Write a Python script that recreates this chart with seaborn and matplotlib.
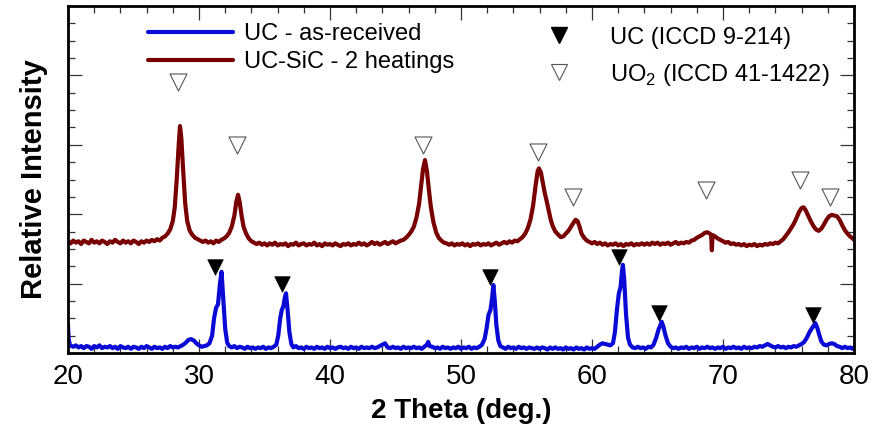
import matplotlib
matplotlib.use("Agg")
import matplotlib.pyplot as plt
from matplotlib.lines import Line2D
from matplotlib.ticker import MultipleLocator, NullFormatter
import seaborn as sns

# ---------------- data, (2theta, intensity) ----------------
red_points = [
    (20.0, 1.61), (20.2, 1.58), (20.4, 1.62), (20.6, 1.59), (20.8, 1.61), (21.0, 1.57),
    (21.2, 1.62), (21.4, 1.60), (21.6, 1.58), (21.8, 1.63), (22.0, 1.59), (22.2, 1.61),
    (22.4, 1.58), (22.6, 1.62), (22.8, 1.60), (23.0, 1.57), (23.2, 1.61), (23.4, 1.59),
    (23.6, 1.63), (23.8, 1.60), (24.0, 1.58), (24.2, 1.62), (24.4, 1.59), (24.6, 1.61),
    (24.8, 1.58), (25.0, 1.62), (25.2, 1.60), (25.4, 1.57), (25.6, 1.61), (25.8, 1.59),
    (26.0, 1.62), (26.2, 1.60), (26.4, 1.63), (26.6, 1.61), (26.8, 1.64), (27.0, 1.62),
    (27.2, 1.66), (27.4, 1.68), (27.6, 1.72), (27.8, 1.78), (28.0, 1.90), (28.15, 2.10),
    (28.3, 2.50), (28.45, 3.00), (28.55, 3.27), (28.65, 3.10), (28.8, 2.60), (28.95, 2.15),
    (29.1, 1.90), (29.3, 1.76), (29.5, 1.70), (29.7, 1.66), (29.9, 1.64), (30.1, 1.62),
    (30.3, 1.60), (30.5, 1.62), (30.7, 1.59), (30.9, 1.61), (31.1, 1.58), (31.3, 1.62),
    (31.5, 1.60), (31.7, 1.63), (31.9, 1.65), (32.1, 1.68), (32.3, 1.73), (32.5, 1.82),
    (32.7, 1.98), (32.85, 2.18), (32.98, 2.28), (33.1, 2.18), (33.25, 1.98), (33.4, 1.82),
    (33.6, 1.72), (33.8, 1.65), (34.0, 1.61), (34.2, 1.59), (34.4, 1.57), (34.6, 1.59),
    (34.8, 1.56), (35.0, 1.58), (35.2, 1.55), (35.4, 1.58), (35.6, 1.56), (35.8, 1.59),
    (36.0, 1.55), (36.2, 1.57), (36.4, 1.56), (36.6, 1.58), (36.8, 1.54), (37.0, 1.57),
    (37.2, 1.56), (37.4, 1.59), (37.6, 1.55), (37.8, 1.57), (38.0, 1.58), (38.2, 1.55),
    (38.4, 1.57), (38.6, 1.56), (38.8, 1.59), (39.0, 1.55), (39.2, 1.57), (39.4, 1.54),
    (39.6, 1.58), (39.8, 1.56), (40.0, 1.57), (40.2, 1.55), (40.4, 1.58), (40.6, 1.56),
    (40.8, 1.54), (41.0, 1.57), (41.2, 1.56), (41.4, 1.58), (41.6, 1.55), (41.8, 1.57),
    (42.0, 1.56), (42.2, 1.59), (42.4, 1.56), (42.6, 1.58), (42.8, 1.55), (43.0, 1.57),
    (43.2, 1.60), (43.4, 1.57), (43.6, 1.59), (43.8, 1.56), (44.0, 1.58), (44.2, 1.60),
    (44.4, 1.57), (44.6, 1.59), (44.8, 1.61), (45.0, 1.58), (45.2, 1.60), (45.4, 1.62),
    (45.6, 1.63), (45.8, 1.66), (46.0, 1.70), (46.2, 1.75), (46.4, 1.82), (46.6, 1.95),
    (46.8, 2.15), (46.95, 2.40), (47.1, 2.65), (47.25, 2.78), (47.4, 2.62), (47.55, 2.35),
    (47.7, 2.10), (47.9, 1.88), (48.1, 1.74), (48.3, 1.66), (48.5, 1.62), (48.7, 1.59),
    (48.9, 1.58), (49.1, 1.56), (49.3, 1.58), (49.5, 1.55), (49.7, 1.57), (49.9, 1.56),
    (50.1, 1.58), (50.3, 1.55), (50.5, 1.57), (50.7, 1.54), (50.9, 1.57), (51.1, 1.56),
    (51.3, 1.58), (51.5, 1.55), (51.7, 1.57), (51.9, 1.56), (52.1, 1.58), (52.3, 1.55),
    (52.5, 1.57), (52.7, 1.59), (52.9, 1.56), (53.1, 1.58), (53.3, 1.60), (53.5, 1.58),
    (53.7, 1.61), (53.9, 1.59), (54.1, 1.62), (54.3, 1.61), (54.5, 1.64), (54.7, 1.67),
    (54.9, 1.72), (55.1, 1.80), (55.3, 1.92), (55.5, 2.12), (55.7, 2.42), (55.85, 2.62),
    (55.95, 2.66), (56.1, 2.60), (56.25, 2.45), (56.4, 2.30), (56.55, 2.18), (56.7, 2.05),
    (56.85, 1.92), (57.0, 1.83), (57.2, 1.75), (57.4, 1.71), (57.6, 1.67), (57.8, 1.68),
    (58.0, 1.72), (58.2, 1.76), (58.4, 1.82), (58.6, 1.88), (58.75, 1.92), (58.9, 1.90),
    (59.05, 1.82), (59.2, 1.72), (59.4, 1.66), (59.6, 1.62), (59.8, 1.60), (60.0, 1.58),
    (60.2, 1.60), (60.4, 1.57), (60.6, 1.59), (60.8, 1.56), (61.0, 1.58), (61.2, 1.55),
    (61.4, 1.57), (61.6, 1.56), (61.8, 1.58), (62.0, 1.55), (62.2, 1.57), (62.4, 1.54),
    (62.6, 1.57), (62.8, 1.56), (63.0, 1.58), (63.2, 1.55), (63.4, 1.57), (63.6, 1.56),
    (63.8, 1.58), (64.0, 1.56), (64.2, 1.58), (64.4, 1.56), (64.6, 1.59), (64.8, 1.57),
    (65.0, 1.59), (65.2, 1.56), (65.4, 1.58), (65.6, 1.57), (65.8, 1.59), (66.0, 1.56),
    (66.2, 1.58), (66.4, 1.60), (66.6, 1.57), (66.8, 1.59), (67.0, 1.58), (67.2, 1.60),
    (67.4, 1.59), (67.6, 1.62), (67.8, 1.63), (68.0, 1.66), (68.2, 1.68), (68.4, 1.70),
    (68.6, 1.73), (68.8, 1.74), (69.0, 1.72), (69.1, 1.70), (69.15, 1.48), (69.2, 1.70),
    (69.4, 1.68), (69.6, 1.65), (69.8, 1.63), (70.0, 1.61), (70.2, 1.59), (70.4, 1.60),
    (70.6, 1.57), (70.8, 1.58), (71.0, 1.56), (71.2, 1.57), (71.4, 1.55), (71.6, 1.57),
    (71.8, 1.54), (72.0, 1.56), (72.2, 1.55), (72.4, 1.57), (72.6, 1.54), (72.8, 1.56),
    (73.0, 1.55), (73.2, 1.57), (73.4, 1.56), (73.6, 1.58), (73.8, 1.57), (74.0, 1.59),
    (74.2, 1.58), (74.4, 1.61), (74.6, 1.64), (74.8, 1.69), (75.0, 1.74), (75.2, 1.80),
    (75.4, 1.86), (75.6, 1.94), (75.8, 2.03), (76.0, 2.09), (76.15, 2.10), (76.3, 2.06),
    (76.5, 1.98), (76.7, 1.90), (76.9, 1.83), (77.1, 1.78), (77.3, 1.76), (77.5, 1.79),
    (77.7, 1.85), (77.9, 1.92), (78.1, 1.97), (78.3, 1.99), (78.5, 1.98), (78.7, 1.97),
    (78.9, 1.92), (79.1, 1.84), (79.3, 1.77), (79.5, 1.72), (79.7, 1.68), (79.9, 1.65),
    (80.0, 1.63),
]

blue_points = [
    (20.0, 0.40), (20.05, 0.20), (20.15, 0.11), (20.4, 0.09), (20.6, 0.11), (20.8, 0.08),
    (21.0, 0.10), (21.2, 0.07), (21.4, 0.10), (21.6, 0.09), (21.8, 0.06), (22.0, 0.10),
    (22.2, 0.08), (22.4, 0.11), (22.6, 0.07), (22.8, 0.09), (23.0, 0.08), (23.2, 0.10),
    (23.4, 0.07), (23.6, 0.09), (23.8, 0.06), (24.0, 0.10), (24.2, 0.08), (24.4, 0.07),
    (24.6, 0.09), (24.8, 0.06), (25.0, 0.09), (25.2, 0.08), (25.4, 0.06), (25.6, 0.09),
    (25.8, 0.07), (26.0, 0.10), (26.2, 0.08), (26.4, 0.06), (26.6, 0.09), (26.8, 0.07),
    (27.0, 0.08), (27.2, 0.06), (27.4, 0.09), (27.6, 0.07), (27.8, 0.10), (28.0, 0.08),
    (28.2, 0.09), (28.4, 0.08), (28.6, 0.10), (28.8, 0.12), (29.0, 0.15), (29.2, 0.19),
    (29.4, 0.20), (29.6, 0.18), (29.8, 0.14), (30.0, 0.11), (30.2, 0.09), (30.4, 0.10),
    (30.6, 0.11), (30.8, 0.14), (31.0, 0.25), (31.15, 0.50), (31.3, 0.65), (31.45, 0.70),
    (31.6, 1.00), (31.72, 1.17), (31.85, 0.80), (32.0, 0.35), (32.15, 0.15), (32.3, 0.10),
    (32.5, 0.08), (32.7, 0.10), (32.9, 0.07), (33.1, 0.09), (33.3, 0.08), (33.5, 0.06),
    (33.7, 0.09), (33.9, 0.07), (34.1, 0.08), (34.3, 0.06), (34.5, 0.08), (34.7, 0.07),
    (34.9, 0.09), (35.1, 0.06), (35.3, 0.08), (35.5, 0.07), (35.7, 0.09), (35.9, 0.12),
    (36.05, 0.25), (36.2, 0.50), (36.32, 0.62), (36.45, 0.68), (36.55, 0.80), (36.64, 0.86),
    (36.75, 0.65), (36.9, 0.30), (37.05, 0.13), (37.2, 0.08), (37.4, 0.10), (37.6, 0.07),
    (37.8, 0.08), (38.0, 0.06), (38.2, 0.09), (38.4, 0.07), (38.6, 0.08), (38.8, 0.06),
    (39.0, 0.09), (39.2, 0.07), (39.4, 0.08), (39.6, 0.06), (39.8, 0.09), (40.0, 0.07),
    (40.2, 0.08), (40.4, 0.06), (40.6, 0.08), (40.8, 0.09), (41.0, 0.07), (41.2, 0.08),
    (41.4, 0.06), (41.6, 0.09), (41.8, 0.07), (42.0, 0.08), (42.2, 0.06), (42.4, 0.09),
    (42.6, 0.07), (42.8, 0.08), (43.0, 0.07), (43.2, 0.09), (43.4, 0.07), (43.6, 0.08),
    (43.8, 0.10), (44.0, 0.12), (44.2, 0.14), (44.4, 0.08), (44.6, 0.07), (44.8, 0.09),
    (45.0, 0.07), (45.2, 0.08), (45.4, 0.06), (45.6, 0.09), (45.8, 0.07), (46.0, 0.08),
    (46.2, 0.07), (46.4, 0.09), (46.6, 0.07), (46.8, 0.08), (47.0, 0.06), (47.2, 0.09),
    (47.4, 0.12), (47.5, 0.16), (47.6, 0.10), (47.8, 0.09), (48.0, 0.07), (48.2, 0.08),
    (48.4, 0.06), (48.6, 0.09), (48.8, 0.07), (49.0, 0.08), (49.2, 0.06), (49.4, 0.08),
    (49.6, 0.07), (49.8, 0.09), (50.0, 0.06), (50.2, 0.08), (50.4, 0.07), (50.6, 0.09),
    (50.8, 0.06), (51.0, 0.08), (51.2, 0.07), (51.4, 0.09), (51.6, 0.12), (51.8, 0.20),
    (51.95, 0.35), (52.1, 0.55), (52.25, 0.62), (52.38, 0.80), (52.47, 0.98), (52.58, 0.75),
    (52.7, 0.40), (52.85, 0.18), (53.0, 0.10), (53.2, 0.08), (53.4, 0.06), (53.6, 0.09),
    (53.8, 0.07), (54.0, 0.08), (54.2, 0.06), (54.4, 0.09), (54.6, 0.07), (54.8, 0.08),
    (55.0, 0.06), (55.2, 0.08), (55.4, 0.07), (55.6, 0.06), (55.8, 0.08), (56.0, 0.06),
    (56.2, 0.08), (56.4, 0.07), (56.6, 0.05), (56.8, 0.08), (57.0, 0.06), (57.2, 0.08),
    (57.4, 0.06), (57.6, 0.07), (57.8, 0.05), (58.0, 0.08), (58.2, 0.06), (58.4, 0.07),
    (58.6, 0.05), (58.8, 0.08), (59.0, 0.06), (59.2, 0.07), (59.4, 0.05), (59.6, 0.08),
    (59.8, 0.06), (60.0, 0.07), (60.2, 0.06), (60.4, 0.09), (60.6, 0.12), (60.8, 0.14),
    (61.0, 0.13), (61.2, 0.12), (61.4, 0.11), (61.6, 0.14), (61.75, 0.30), (61.9, 0.62),
    (62.05, 0.86), (62.18, 0.95), (62.3, 1.20), (62.36, 1.27), (62.46, 1.05), (62.6, 0.55),
    (62.75, 0.22), (62.9, 0.12), (63.1, 0.08), (63.3, 0.07), (63.5, 0.09), (63.7, 0.07),
    (63.9, 0.08), (64.1, 0.06), (64.3, 0.09), (64.5, 0.08), (64.7, 0.12), (64.9, 0.22),
    (65.1, 0.35), (65.22, 0.40), (65.32, 0.45), (65.45, 0.38), (65.6, 0.26), (65.8, 0.14),
    (66.0, 0.09), (66.2, 0.07), (66.4, 0.08), (66.6, 0.06), (66.8, 0.08), (67.0, 0.07),
    (67.2, 0.09), (67.4, 0.06), (67.6, 0.08), (67.8, 0.07), (68.0, 0.09), (68.2, 0.06),
    (68.4, 0.08), (68.6, 0.07), (68.8, 0.09), (69.0, 0.07), (69.2, 0.08), (69.4, 0.06),
    (69.6, 0.08), (69.8, 0.07), (70.0, 0.09), (70.2, 0.06), (70.4, 0.08), (70.6, 0.07),
    (70.8, 0.09), (71.0, 0.07), (71.2, 0.08), (71.4, 0.06), (71.6, 0.09), (71.8, 0.07),
    (72.0, 0.08), (72.2, 0.07), (72.4, 0.09), (72.6, 0.08), (72.8, 0.10), (73.0, 0.09),
    (73.2, 0.11), (73.4, 0.13), (73.6, 0.11), (73.8, 0.09), (74.0, 0.08), (74.2, 0.10),
    (74.4, 0.08), (74.6, 0.09), (74.8, 0.07), (75.0, 0.09), (75.2, 0.08), (75.4, 0.10),
    (75.6, 0.09), (75.8, 0.11), (76.0, 0.13), (76.2, 0.16), (76.4, 0.22), (76.6, 0.30),
    (76.8, 0.36), (76.95, 0.40), (77.05, 0.43), (77.2, 0.36), (77.35, 0.26), (77.5, 0.17),
    (77.7, 0.12), (77.9, 0.11), (78.1, 0.13), (78.3, 0.14), (78.5, 0.13), (78.7, 0.10),
    (78.9, 0.09), (79.1, 0.07), (79.3, 0.09), (79.5, 0.07), (79.7, 0.08), (79.9, 0.06),
    (80.0, 0.08),
]

# reference-pattern markers
uc_x = [31.22, 36.31, 52.20, 62.08, 65.11, 76.90]
uc_y = [1.24, 0.99, 1.10, 1.39, 0.58, 0.55]
uo2_x = [28.42, 32.88, 47.08, 55.86, 58.53, 68.70, 75.88, 78.20]
uo2_y = [3.91, 3.00, 3.00, 2.90, 2.25, 2.35, 2.50, 2.25]

series_labels = ["UC - as-received", "UC-SiC - 2 heatings"]
marker_labels = ["UC (ICCD 9-214)", "UO$_2$ (ICCD 41-1422)"]
x_label = "2 Theta (deg.)"
y_label = "Relative Intensity"

BLUE = "#0a0ad6"
RED = "#780000"

red_x = [p[0] for p in red_points]
red_y = [p[1] for p in red_points]
blue_x = [p[0] for p in blue_points]
blue_y = [p[1] for p in blue_points]

# ---------------- figure ----------------
sns.set_theme(style="white")
plt.rcParams["font.family"] = ["Liberation Sans", "DejaVu Sans"]
plt.rcParams["mathtext.fontset"] = "custom"
plt.rcParams["mathtext.rm"] = "Liberation Sans"
plt.rcParams["text.color"] = "black"
plt.rcParams["axes.labelcolor"] = "black"
plt.rcParams["xtick.labelcolor"] = "black"
plt.rcParams["ytick.labelcolor"] = "black"

fig = plt.figure(figsize=(8.72, 4.30), dpi=100)
ax = fig.add_axes([68 / 872, 1 - 353 / 430, (854 - 68) / 872, (353 - 6) / 430])

sns.lineplot(x=blue_x, y=blue_y, ax=ax, color=BLUE, lw=3.0, sort=False)
sns.lineplot(x=red_x, y=red_y, ax=ax, color=RED, lw=3.0, sort=False)

sns.scatterplot(x=uc_x, y=uc_y, ax=ax, marker="v", s=125, color="black",
                edgecolor="black", linewidth=0.5, zorder=5)
sns.scatterplot(x=uo2_x, y=uo2_y, ax=ax, marker="v", s=150, facecolor="white",
                edgecolor="#555555", linewidth=0.8, zorder=5)

ax.set_xlim(20, 80)
ax.set_ylim(0, 5)
ax.xaxis.set_major_locator(MultipleLocator(10))
ax.xaxis.set_minor_locator(MultipleLocator(2))
ax.yaxis.set_major_locator(MultipleLocator(1))
ax.yaxis.set_minor_locator(MultipleLocator(0.25))
ax.yaxis.set_major_formatter(NullFormatter())
ax.tick_params(which="both", direction="in", top=True, right=True, bottom=True, left=True,
               color="#333333", width=0.9)
ax.tick_params(which="major", length=10)
ax.tick_params(which="minor", length=5)
ax.tick_params(axis="x", which="major", labelsize=20, pad=8, labelcolor="black")
ax.tick_params(axis="y", labelleft=False)

for sp in ax.spines.values():
    sp.set_linewidth(2.0)
    sp.set_color("black")

ax.set_xlabel(x_label, fontsize=20, fontweight="bold", labelpad=6, color="black")
ax.set_ylabel(y_label, fontsize=21, fontweight="bold", labelpad=11, color="black")

# legends
line_handles = [Line2D([0], [0], color=BLUE, lw=3),
                Line2D([0], [0], color=RED, lw=3)]
leg1 = ax.legend(line_handles, series_labels, loc="upper left",
                 bbox_to_anchor=(0.09, 0.977), frameon=False, fontsize=17,
                 handlelength=3.6, handletextpad=0.45, labelspacing=0.25,
                 borderaxespad=0.2, borderpad=0.2, labelcolor="black")
ax.add_artist(leg1)

mk_handles = [Line2D([0], [0], marker="v", ls="none", ms=11, color="black"),
              Line2D([0], [0], marker="v", ls="none", ms=12, markerfacecolor="white",
                     markeredgecolor="#555555", markeredgewidth=0.8)]
ax.legend(mk_handles, marker_labels, loc="upper left",
          bbox_to_anchor=(0.598, 0.968), frameon=False, fontsize=17,
          handlelength=1.0, handletextpad=1.65, labelspacing=0.55,
          borderaxespad=0.2, borderpad=0.2, labelcolor="black")

fig.savefig("out.png", dpi=100)
